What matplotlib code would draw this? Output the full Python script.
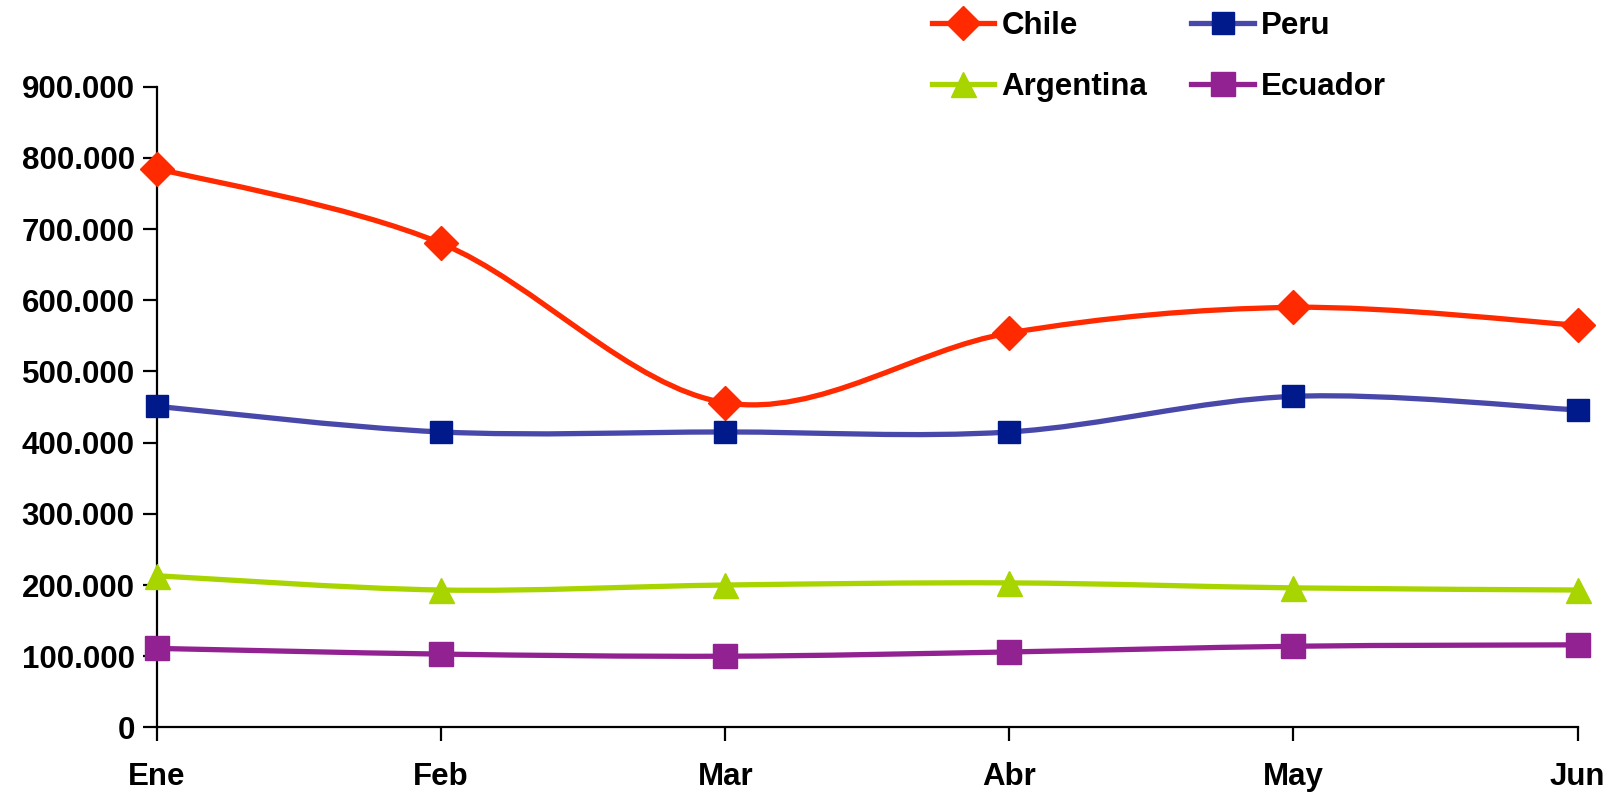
import matplotlib
matplotlib.use("Agg")
import matplotlib.pyplot as plt
from matplotlib.path import Path
from matplotlib.patches import PathPatch
from matplotlib.lines import Line2D
from matplotlib.ticker import FuncFormatter, MultipleLocator

# ── Data ──────────────────────────────────────────────────────────────────────
months = ["Ene", "Feb", "Mar", "Abr", "May", "Jun"]
chile     = [785000, 680000, 456000, 554000, 590000, 565000]
peru      = [451000, 415000, 415000, 415000, 465000, 446000]
argentina = [213000, 193000, 200000, 203000, 196000, 193000]
ecuador   = [111000, 103000, 100000, 106000, 114000, 116000]

SERIES = [
    ("Chile",     chile,     "#FF2A00", "#FF2A00", "D", 17),
    ("Peru",      peru,      "#4848AA", "#001A8C", "s", 16),
    ("Argentina", argentina, "#A8D400", "#A8D400", "^", 18),
    ("Ecuador",   ecuador,   "#922291", "#922291", "s", 17),
]

plt.rcParams["font.family"] = ["Liberation Sans", "DejaVu Sans"]
plt.rcParams["font.weight"] = "bold"


def smooth_path(xs, ys):
    # Excel-style smoothed line: cubic Bezier segments, Catmull-Rom tangents
    pts = list(zip(xs, ys))
    verts = [pts[0]]
    codes = [Path.MOVETO]
    n = len(pts)
    for i in range(n - 1):
        p0 = pts[max(i - 1, 0)]
        p1 = pts[i]
        p2 = pts[i + 1]
        p3 = pts[min(i + 2, n - 1)]
        c1 = (p1[0] + (p2[0] - p0[0]) / 6, p1[1] + (p2[1] - p0[1]) / 6)
        c2 = (p2[0] - (p3[0] - p1[0]) / 6, p2[1] - (p3[1] - p1[1]) / 6)
        verts += [c1, c2, p2]
        codes += [Path.CURVE4] * 3
    return Path(verts, codes)


fig = plt.figure(figsize=(16.18, 7.95), dpi=100)
ax = fig.add_axes([0.097, 0.085, 0.878, 0.806])

x = list(range(len(months)))
handles = {}
for name, vals, lc, mc, mk, ms in SERIES:
    ax.add_patch(PathPatch(smooth_path(x, vals), facecolor="none", edgecolor=lc,
                           lw=3.8, zorder=3, clip_on=False))
    ax.plot(x, vals, ls="none", marker=mk, ms=ms, color=mc, mec=mc,
            zorder=4, clip_on=False)
    handles[name] = Line2D([], [], color=lc, lw=3.8, marker=mk, ms=ms,
                           mfc=mc, mec=mc, label=name)

ax.set_xlim(0, 5)
ax.set_ylim(0, 900000)
ax.yaxis.set_major_locator(MultipleLocator(100000))
ax.yaxis.set_major_formatter(FuncFormatter(lambda v, p: f"{int(v):,}".replace(",", ".")))
ax.set_xticks(x)
ax.set_xticklabels(months)

for s in ["top", "right"]:
    ax.spines[s].set_visible(False)
for s in ["left", "bottom"]:
    ax.spines[s].set_linewidth(1.6)
ax.tick_params(axis="both", direction="out", length=10, width=1.6,
               labelsize=22.5, pad=6, colors="black")
ax.tick_params(axis="x", pad=15)

order = ["Chile", "Argentina", "Peru", "Ecuador"]
fig.legend(handles=[handles[k] for k in order], ncol=2, frameon=False,
           fontsize=22.5, loc="upper left", bbox_to_anchor=(0.576, 0.986),
           borderpad=0, borderaxespad=0,
           handlelength=2.0, handletextpad=0.23, columnspacing=1.4,
           labelspacing=1.0)

fig.savefig("out.png", dpi=100, facecolor="white")
